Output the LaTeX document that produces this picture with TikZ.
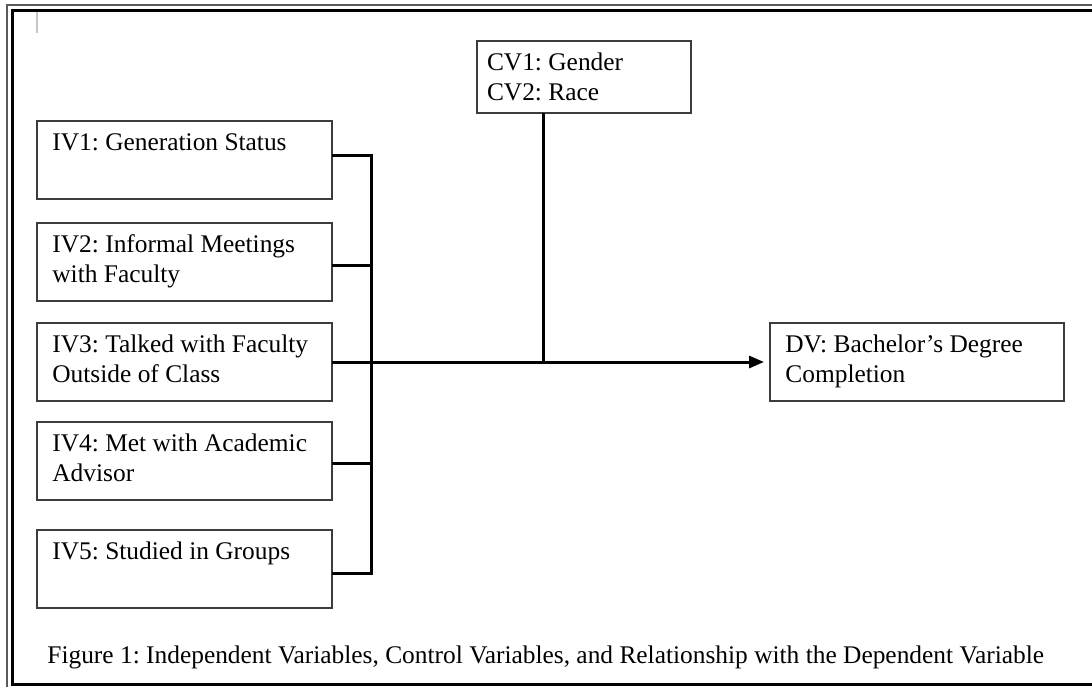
\documentclass[tikz,border=0pt]{standalone}
\usepackage{fontspec}
\setmainfont{Liberation Serif}
\usetikzlibrary{arrows.meta}
\definecolor{boxgray}{RGB}{60,60,60}
\definecolor{framegray}{RGB}{90,90,90}
\newcommand\boxtxt[3]{\parbox[t][#1][t]{#2}{\frenchspacing\raggedright\rule{0pt}{14.6pt}#3}}
\begin{document}
\begin{tikzpicture}[x=0.5pt,y=-0.5pt,
  font=\fontsize{12.7}{15}\selectfont\frenchspacing,
  box/.style={draw=boxgray, line width=0.7pt, inner xsep=7.7pt, inner ysep=0pt, outer sep=0pt, anchor=north west},
  cvbox/.style={box, inner xsep=5pt},
  conn/.style={draw=black, line width=1.5pt, line join=miter}]
\useasboundingbox (0,0) rectangle (1092,687);
% frame
\draw[framegray, line width=0.6pt] (7,687) -- (7,5) -- (1092,5);
\draw[black, line width=1.5pt] (1092,10.5) -- (12.5,10.5) -- (12.5,684.5) -- (1092,684.5);
\draw[gray!45, line width=0.6pt] (37,12) -- (37,33);
% boxes
\node[box] (iv1) at (37,121) {\boxtxt{39pt}{132.1pt}{IV1: Generation Status}};
\node[box] (iv2) at (37,223) {\boxtxt{39pt}{132.1pt}{IV2: Informal Meetings\\ with Faculty}};
\node[box] (iv3) at (37,323) {\boxtxt{39pt}{132.1pt}{IV3: Talked with Faculty\\ Outside of Class}};
\node[box] (iv4) at (37,422) {\boxtxt{39pt}{132.1pt}{IV4: Met with Academic\\ Advisor}};
\node[box] (iv5) at (37,530) {\boxtxt{39pt}{132.1pt}{IV5: Studied in Groups}};
\node[cvbox] (cv) at (477,41) {\boxtxt{36pt}{97pt}{CV1: Gender\\ CV2: Race}};
\node[box] (dv) at (770,323) {\boxtxt{39pt}{131.6pt}{DV: Bachelor’s Degree\\ Completion}};
% connectors
\coordinate (b1) at (371,155);
\coordinate (b2) at (371,265);
\coordinate (b4) at (371,463);
\coordinate (b5) at (371,573);
\coordinate (j) at (543,362);
\draw[conn] (iv1.east |- b1) -- (b1) -- (b5) -- (iv5.east |- b5);
\draw[conn] (iv2.east |- b2) -- (b2);
\draw[conn] (iv4.east |- b4) -- (b4);
\draw[conn, -{Triangle[length=7.5pt,width=6pt]}] (iv3.east) -- ([xshift=-3pt]dv.west);
\draw[conn] (cv.south -| j) -- (j);
% caption
\node[anchor=base west, inner sep=0pt] (cap) at (47,663) {Figure 1: Independent Variables, Control Variables, and Relationship with the Dependent Variable};
\end{tikzpicture}
\end{document}
